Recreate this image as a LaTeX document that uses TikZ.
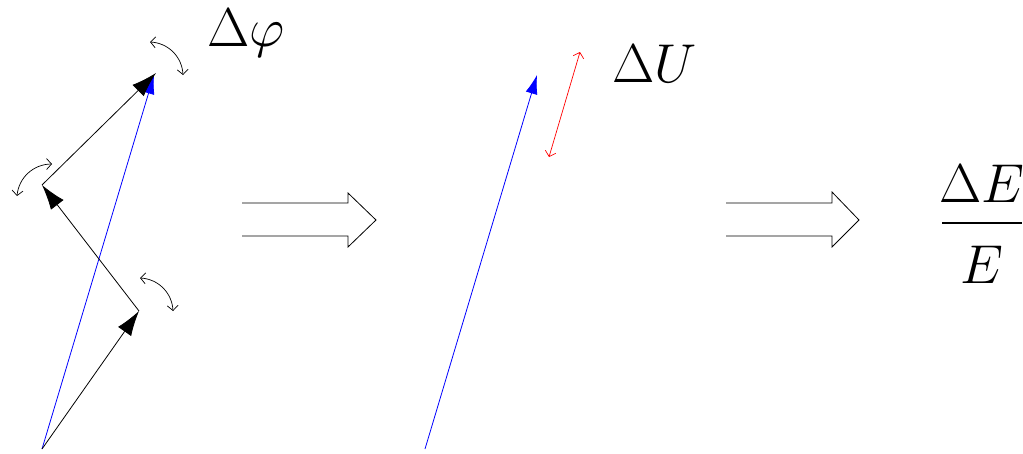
\documentclass[tikz,border=0pt]{standalone}
\usetikzlibrary{arrows.meta}
\newcommand{\biglbl}[1]{\scalebox{2.2}{$#1$}}
\begin{document}
\begin{tikzpicture}[x=1pt,y=-1pt,
  vec/.style={line width=0.8pt,-{Latex[length=25pt,width=16pt]}},
  bvec/.style={line width=0.8pt,blue,-{Latex[length=19pt,width=12pt]}},
  swing/.style={line width=0.7pt,{Straight Barb[length=5pt,width=11pt]}-{Straight Barb[length=5pt,width=11pt]}},
  hollow/.style={line width=0.8pt,line join=miter},
  lbl/.style={font=\Huge,inner sep=0pt,anchor=base west}]
\useasboundingbox (0,0) rectangle (1023,453);
% left group
\coordinate (O) at (42,449);
\coordinate (P1) at (139,311);
\coordinate (P2) at (42,185);
\coordinate (P3) at (156,73);
\coordinate (B) at (154,75);
\draw[bvec] (O) -- (B);
\draw[vec] (O) -- (P1);
\draw[vec] (P1) -- (P2);
\draw[vec] (P2) -- (P3);
\coordinate (s1a) at (150,42); \coordinate (s1b) at (183,75);
\coordinate (s2a) at (52,164); \coordinate (s2b) at (17,196);
\coordinate (s3a) at (140,278); \coordinate (s3b) at (173,311);
\draw[swing] (s1a) to[bend left=42] (s1b);
\draw[swing] (s2a) to[bend right=42] (s2b);
\draw[swing] (s3a) to[bend left=42] (s3b);
\node[lbl] (dphi) at (207,46) {\biglbl{\Delta\varphi}};
% first hollow arrow
\draw[hollow] (242,203) -- (348,203) -- (348,193) -- (376,220) -- (348,247) -- (348,236) -- (242,236);
% middle
\coordinate (M0) at (425,449);
\coordinate (M1) at (537,75);
\draw[bvec] (M0) -- (M1);
\coordinate (r1) at (549,157); \coordinate (r2) at (580,52);
\draw[red,line width=0.7pt,{Straight Barb[length=5pt,width=11pt]}-{Straight Barb[length=5pt,width=11pt]}] (r1) -- (r2);
\node[lbl] (dU) at (612,82) {\biglbl{\Delta U}};
% second hollow arrow
\draw[hollow] (726,203) -- (832,203) -- (832,192) -- (859,220) -- (832,247) -- (832,236) -- (726,236);
% fraction
\node[lbl,anchor=base] (dE) at (982,202) {\biglbl{\Delta E}};
\node[lbl,anchor=base] (E) at (982,283) {\biglbl{E}};
\draw[line width=1.2pt] (942,223) -- (1022,223);
\end{tikzpicture}
\end{document}
